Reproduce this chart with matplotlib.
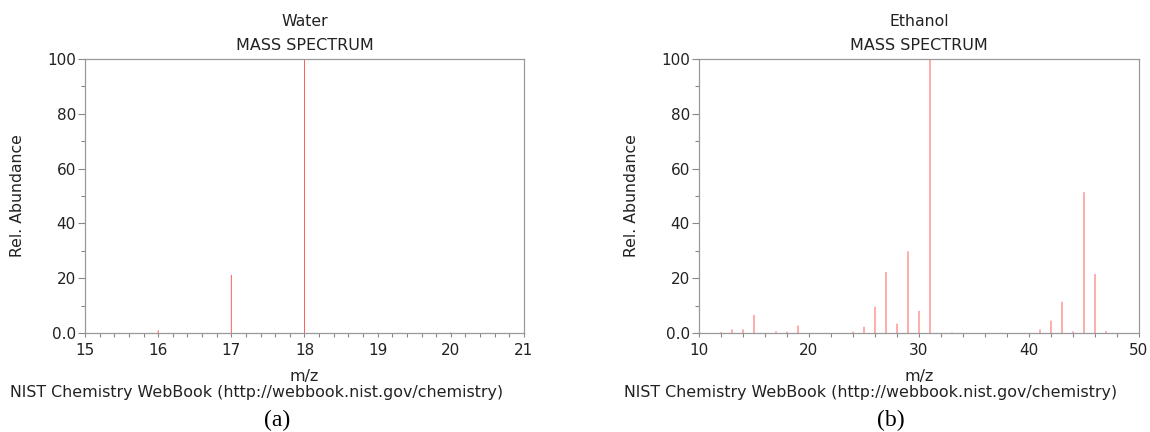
import matplotlib
matplotlib.use('Agg')
import matplotlib.pyplot as plt
from matplotlib.ticker import MultipleLocator

# Water spectrum (m/z, relative abundance)
water_mz = [16, 17, 18, 19, 20]
water_abund = [1.0, 21.2, 100.0, 0.1, 0.2]

# Ethanol spectrum
ethanol_mz = [12, 13, 14, 15, 17, 18, 19, 24, 25, 26, 27, 28, 29, 30, 31,
              33, 41, 42, 43, 44, 45, 46, 47]
ethanol_abund = [0.3, 1.3, 1.3, 6.6, 0.6, 0.5, 2.7, 0.5, 2.3, 9.6, 22.3, 3.4,
                 29.8, 8.1, 100.0, 0.2, 1.3, 4.5, 11.4, 0.6, 51.4, 21.5, 0.7]

y_ticks = [0, 20, 40, 60, 80, 100]
y_labels = ['0.0', '20', '40', '60', '80', '100']
source = 'NIST Chemistry WebBook (http://webbook.nist.gov/chemistry)'

text_color = '#222222'
spine_color = '#999999'
plt.rcParams['font.family'] = 'DejaVu Sans'

W, H = 1150, 432
fig = plt.figure(figsize=(W / 100, H / 100), dpi=100)


def px_axes(left, right, top, bottom):
    return fig.add_axes([left / W, 1 - bottom / H, (right - left) / W, (bottom - top) / H])


def spectrum(ax, mz, abund, xlim, xmajor, xminor, name, x_left, label):
    ax.vlines(mz, 0, abund, colors='#ff5a5a', linewidth=0.7, snap=False)
    ax.set_xlim(*xlim)
    ax.set_ylim(0, 100)
    ax.xaxis.set_major_locator(MultipleLocator(xmajor))
    ax.xaxis.set_minor_locator(MultipleLocator(xminor))
    ax.set_yticks(y_ticks)
    ax.set_yticklabels(y_labels)
    ax.yaxis.set_minor_locator(MultipleLocator(10))
    for s in ax.spines.values():
        s.set_color(spine_color)
        s.set_linewidth(0.9)
    ax.tick_params(axis='y', which='major', length=5, width=0.8, color='#888888',
                   labelsize=11, labelcolor=text_color, pad=1.5)
    ax.tick_params(axis='y', which='minor', length=3, width=0.8, color='#888888')
    ax.tick_params(axis='x', which='both', length=3, width=0.8, color='#888888',
                   labelsize=11, labelcolor=text_color, pad=4)
    ax.set_xlabel('m/z', fontsize=11.5, color=text_color, va='center')
    ax.xaxis.set_label_coords(0.5, -(376 - 333) / 274)
    ax.set_ylabel('Rel. Abundance', fontsize=11.3, color=text_color, va='center')
    ax.yaxis.set_label_coords(-67 / ax.bbox.width, 0.5)
    ax.text(0.5, 1 + (333 - 21 - 274) / 274, name, transform=ax.transAxes,
            ha='center', va='center', fontsize=11.3, color=text_color)
    ax.text(0.5, 1 + (333 - 45 - 274) / 274, 'MASS SPECTRUM', transform=ax.transAxes,
            ha='center', va='center', fontsize=11.5, color=text_color)
    fig.text((x_left - 75) / W, 1 - 393 / H, source, ha='left', va='center',
             fontsize=11.4, color=text_color)
    fig.text((x_left + 192) / W, 1 - 420 / H, label, ha='center', va='center',
             fontsize=17, family='Liberation Serif', color='black')


ax1 = px_axes(85, 524, 59, 333)
spectrum(ax1, water_mz, water_abund, (15, 21), 1, 0.2, 'Water', 85, '(a)')

ax2 = px_axes(699, 1139, 59, 333)
spectrum(ax2, ethanol_mz, ethanol_abund, (10, 50), 10, 2, 'Ethanol', 699, '(b)')

fig.savefig('out.png', dpi=100)
